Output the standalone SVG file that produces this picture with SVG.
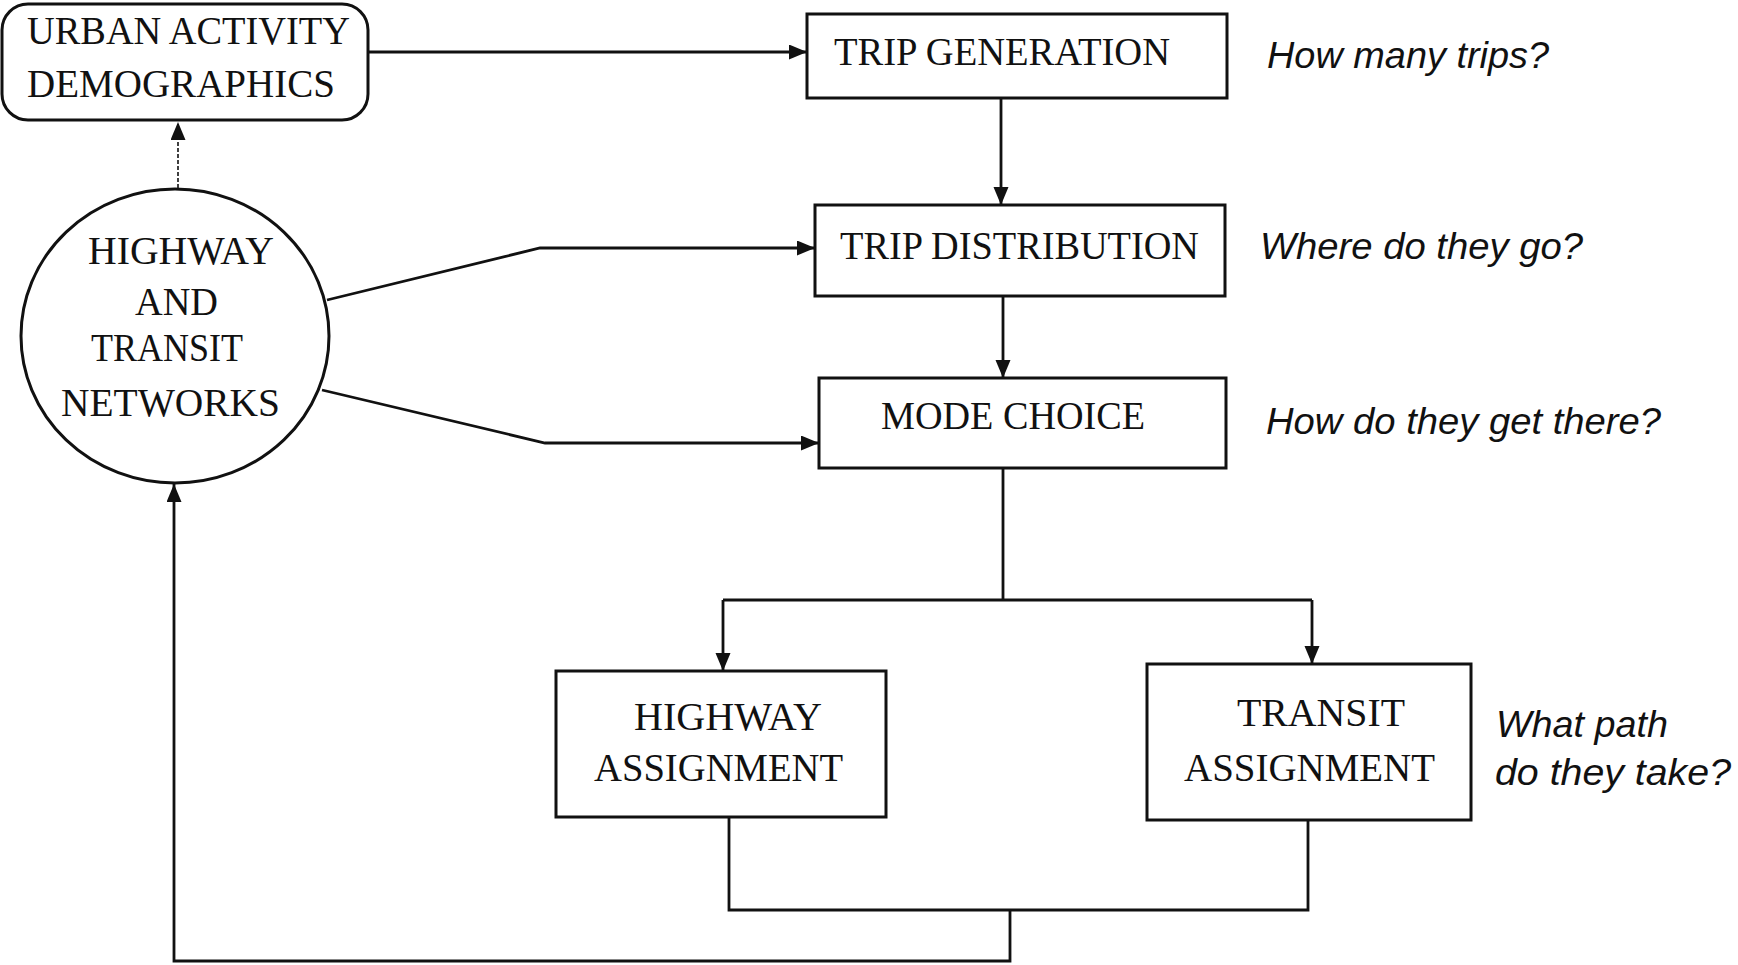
<svg xmlns="http://www.w3.org/2000/svg" width="1738" height="965" viewBox="0 0 1738 965">
<style>
.box{fill:#fff;stroke:#111;stroke-width:3}
.lbl{font-family:"Liberation Serif","Times New Roman",serif;font-size:40px;fill:#111}
.q{font-family:"Liberation Sans",Arial,sans-serif;font-style:italic;font-size:37px;fill:#111}
.c{fill:none;stroke:#111;stroke-width:2.8}
.d{fill:none;stroke:#111;stroke-width:1.6;stroke-dasharray:4 2}
</style>
<defs>
<marker id="ah" markerUnits="userSpaceOnUse" markerWidth="20" markerHeight="16" refX="18" refY="7.5" orient="auto">
<path d="M0,0 L18,7.5 L0,15 z" fill="#111"/>
</marker>
</defs>
<rect width="1738" height="965" fill="#fff"/>
<g id="connectors">
<path class="c" d="M368,52 L807,52" marker-end="url(#ah)"/>
<path class="c" d="M1001,98 L1001,205" marker-end="url(#ah)"/>
<path class="c" d="M1003,296 L1003,378" marker-end="url(#ah)"/>
<path class="c" d="M327,300 L540,248 L815,248" marker-end="url(#ah)"/>
<path class="c" d="M322,390 L545,443 L819,443" marker-end="url(#ah)"/>
<path class="d" d="M178,188 L178,122" marker-end="url(#ah)"/>
<path class="c" d="M1003,468 L1003,600"/>
<path class="c" d="M723,600 L1312,600"/>
<path class="c" d="M723,600 L723,671" marker-end="url(#ah)"/>
<path class="c" d="M1312,600 L1312,664" marker-end="url(#ah)"/>
<path class="c" d="M729,817 L729,910 L1308,910 L1308,820"/>
<path class="c" d="M1010,910 L1010,961 L174,961 L174,484" marker-end="url(#ah)"/>
</g>
<g id="urban">
<rect class="box" x="2" y="4" width="366" height="116" rx="26" ry="26"/>
<text class="lbl" x="27" y="44" textLength="323" lengthAdjust="spacingAndGlyphs">URBAN ACTIVITY</text>
<text class="lbl" x="27" y="97" textLength="308" lengthAdjust="spacingAndGlyphs">DEMOGRAPHICS</text>
</g>
<g id="networks">
<ellipse class="box" cx="175" cy="336" rx="154" ry="147"/>
<text class="lbl" x="88" y="264" textLength="186" lengthAdjust="spacingAndGlyphs">HIGHWAY</text>
<text class="lbl" x="135" y="315" textLength="83" lengthAdjust="spacingAndGlyphs">AND</text>
<text class="lbl" x="91" y="361" textLength="152" lengthAdjust="spacingAndGlyphs">TRANSIT</text>
<text class="lbl" x="61" y="416" textLength="219" lengthAdjust="spacingAndGlyphs">NETWORKS</text>
</g>
<g id="tripgen">
<rect class="box" x="807" y="14" width="420" height="84"/>
<text class="lbl" x="834" y="65" textLength="336" lengthAdjust="spacingAndGlyphs">TRIP GENERATION</text>
</g>
<g id="tripdist">
<rect class="box" x="815" y="205" width="410" height="91"/>
<text class="lbl" x="840" y="259" textLength="359" lengthAdjust="spacingAndGlyphs">TRIP DISTRIBUTION</text>
</g>
<g id="modechoice">
<rect class="box" x="819" y="378" width="407" height="90"/>
<text class="lbl" x="881" y="429" textLength="264" lengthAdjust="spacingAndGlyphs">MODE CHOICE</text>
</g>
<g id="hwyassign">
<rect class="box" x="556" y="671" width="330" height="146"/>
<text class="lbl" x="634" y="730" textLength="188" lengthAdjust="spacingAndGlyphs">HIGHWAY</text>
<text class="lbl" x="594" y="781" textLength="249" lengthAdjust="spacingAndGlyphs">ASSIGNMENT</text>
</g>
<g id="transassign">
<rect class="box" x="1147" y="664" width="324" height="156"/>
<text class="lbl" x="1237" y="726" textLength="168" lengthAdjust="spacingAndGlyphs">TRANSIT</text>
<text class="lbl" x="1184" y="781" textLength="251" lengthAdjust="spacingAndGlyphs">ASSIGNMENT</text>
</g>
<g id="questions">
<text class="q" x="1267" y="68" textLength="282" lengthAdjust="spacingAndGlyphs">How many trips?</text>
<text class="q" x="1260" y="259" textLength="323" lengthAdjust="spacingAndGlyphs">Where do they go?</text>
<text class="q" x="1266" y="434" textLength="395" lengthAdjust="spacingAndGlyphs">How do they get there?</text>
<text class="q" x="1496" y="737" textLength="172" lengthAdjust="spacingAndGlyphs">What path</text>
<text class="q" x="1495" y="785" textLength="236" lengthAdjust="spacingAndGlyphs">do they take?</text>
</g>
</svg>
